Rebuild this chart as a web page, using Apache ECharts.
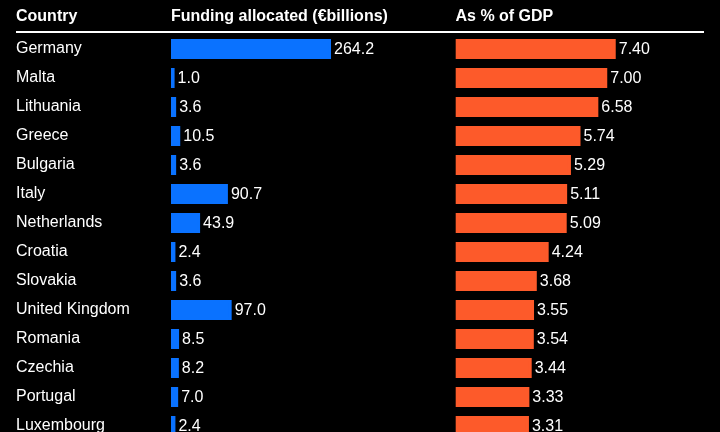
<!DOCTYPE html>
<html>
<head>
<meta charset="utf-8">
<script src="https://cdn.jsdelivr.net/npm/echarts@6/dist/echarts.min.js"></script>
<style>
html,body{margin:0;padding:0;background:#000;overflow:hidden;}
#chart{width:720px;height:445px;}
</style>
</head>
<body>
<div id="chart"></div>
<script>
var countries = ["Germany","Malta","Lithuania","Greece","Bulgaria","Italy","Netherlands","Croatia","Slovakia","United Kingdom","Romania","Czechia","Portugal","Luxembourg"];
var funding = [264.2,1.0,3.6,10.5,3.6,90.7,43.9,2.4,3.6,97.0,8.5,8.2,7.0,2.4];
var gdpShare = [7.40,7.00,6.58,5.74,5.29,5.11,5.09,4.24,3.68,3.55,3.54,3.44,3.33,3.31];
var headers = ["Country","Funding allocated (€billions)","As % of GDP"];

var FONT = '"Liberation Sans", Arial, Helvetica, sans-serif';
var BLUE = '#0a72ff';
var ORANGE = '#fd5a2a';

function makeRender(color, digits) {
  return function (params, api) {
    var v = api.value(0);
    var c = api.value(1);
    var p0 = api.coord([0, c]);
    var p1 = api.coord([v, c]);
    var barH = 17;
    var lw = 3;
    return {
      type: 'group',
      children: [
        {type:'rect', shape:{x:p0[0], y:p0[1]-barH/2, width:p1[0]-p0[0], height:barH},
         style:{fill:color, stroke:color, lineWidth:lw}},
        {type:'text', style:{text:v.toFixed(digits), x:p1[0]+lw/2+3, y:p0[1]+1,
          verticalAlign:'middle', align:'left', fill:'#fff', font:'16px '+FONT}}
      ]
    };
  };
}
function toData(arr) { return arr.map(function (v, i) { return [v, i]; }); }

var chart = echarts.init(document.getElementById('chart'), null, {renderer:'canvas'});
var common = {
  type:'category', data:countries, inverse:true,
  axisLine:{show:false}, axisTick:{show:false}, splitLine:{show:false}
};
chart.setOption({
  backgroundColor:'#000',
  animation:false,
  grid:[
    {left:172.5, top:34.5, width:178.3, height:406, containLabel:false},
    {left:457.2, top:34.5, width:212.2, height:406, containLabel:false}
  ],
  xAxis:[
    {gridIndex:0, type:'value', min:0, max:300, show:false},
    {gridIndex:1, type:'value', min:0, max:10, show:false}
  ],
  yAxis:[
    Object.assign({gridIndex:0, axisLabel:{show:true, align:'left', margin:156.5, color:'#fff', fontSize:16, fontFamily:FONT, padding:[0,0,3,0]}}, common),
    Object.assign({gridIndex:1, axisLabel:{show:false}}, common)
  ],
  series:[
    {type:'custom', xAxisIndex:0, yAxisIndex:0, data:toData(funding), clip:false,
     encode:{x:0, y:1}, renderItem:makeRender(BLUE, 1)},
    {type:'custom', xAxisIndex:1, yAxisIndex:1, data:toData(gdpShare), clip:false,
     encode:{x:0, y:1}, renderItem:makeRender(ORANGE, 2)}
  ],
  graphic:[
    {type:'text', style:{text:headers[0], x:16, y:17, textVerticalAlign:'middle', fill:'#fff', font:'bold 16px '+FONT}},
    {type:'text', style:{text:headers[1], x:171, y:17, textVerticalAlign:'middle', fill:'#fff', font:'bold 16px '+FONT}},
    {type:'text', style:{text:headers[2], x:455.5, y:17, textVerticalAlign:'middle', fill:'#fff', font:'bold 16px '+FONT}},
    {type:'line', shape:{x1:16, y1:32, x2:704, y2:32}, style:{stroke:'#fff', lineWidth:2}}
  ]
});
</script>
</body>
</html>
